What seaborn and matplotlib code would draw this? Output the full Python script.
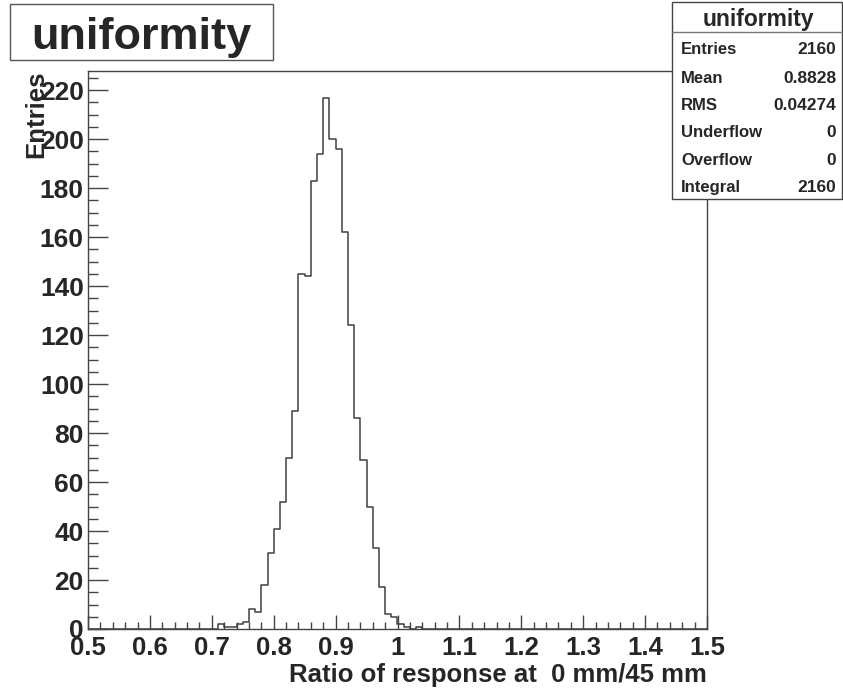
import numpy as np
import pandas as pd
import matplotlib
matplotlib.use("Agg")
import matplotlib.pyplot as plt
from matplotlib.patches import Rectangle
from matplotlib.lines import Line2D
from matplotlib.ticker import FixedLocator, FixedFormatter, MultipleLocator
import seaborn as sns

# Binning of the ratio histogram: 100 bins of width 0.01
bin_low = 0.5
bin_high = 1.5
n_bins = 100

# Non-empty bins (bin index) and their entries
filled_bins = [21, 22, 23, 24, 25, 26, 27, 28, 29, 30, 31,
               32, 33, 34, 35, 36, 37, 38, 39, 40, 41,
               42, 43, 44, 45, 46, 47, 48, 49, 50, 51, 53]
filled_counts = [2, 1, 1, 2, 3, 8, 7, 18, 31, 41, 52,
                 70, 89, 145, 144, 183, 194, 217, 200, 196, 162,
                 124, 86, 69, 50, 33, 17, 6, 5, 2, 1, 1]

xtick_values = [0.5, 0.6, 0.7, 0.8, 0.9, 1.0, 1.1, 1.2, 1.3, 1.4, 1.5]
xtick_labels = ["0.5", "0.6", "0.7", "0.8", "0.9", "1", "1.1", "1.2", "1.3", "1.4", "1.5"]
ytick_values = [0, 20, 40, 60, 80, 100, 120, 140, 160, 180, 200, 220]

hist_name = "uniformity"
x_title = "Ratio of response at  0 mm/45 mm"
y_title = "Entries"

stat_names = ["Entries", "Mean", "RMS", "Underflow", "Overflow", "Integral"]
stat_values = ["2160", "0.8828", "0.04274", "0", "0", "2160"]

sns.set_style("white")
plt.rcParams["font.family"] = ["Liberation Sans", "DejaVu Sans"]
plt.rcParams["font.weight"] = "bold"

W, H = 843, 689
fig = plt.figure(figsize=(W / 100, H / 100), dpi=100)
ax = fig.add_axes([88 / W, 1 - 629 / H, 619 / W, 558 / H])

width = (bin_high - bin_low) / n_bins
centers = bin_low + (np.array(filled_bins) + 0.5) * width
df = pd.DataFrame({"ratio": centers, "entries": filled_counts})

sns.histplot(data=df, x="ratio", weights="entries", bins=n_bins,
             binrange=(bin_low, bin_high), element="step", fill=False,
             color="#404040", linewidth=1.1, ax=ax)

ax.set_xlim(bin_low, bin_high)
ax.set_ylim(0, max(filled_counts) * 1.05)

# axis ticks, drawn inside the frame
ax.xaxis.set_major_locator(FixedLocator(xtick_values))
ax.xaxis.set_major_formatter(FixedFormatter(xtick_labels))
ax.xaxis.set_minor_locator(MultipleLocator(0.02))
ax.yaxis.set_major_locator(FixedLocator(ytick_values))
ax.yaxis.set_minor_locator(MultipleLocator(5))
ax.tick_params(axis="x", which="major", direction="in", length=10, width=1,
               bottom=True, top=False, pad=5, labelsize=18.5, color="#444444")
ax.tick_params(axis="x", which="minor", direction="in", length=5, width=1,
               bottom=True, top=False, color="#444444")
ax.tick_params(axis="y", which="major", direction="in", length=14.5, width=1,
               left=True, right=False, pad=3, labelsize=19, color="#444444")
ax.tick_params(axis="y", which="minor", direction="in", length=7.5, width=1,
               left=True, right=False, color="#444444")
for sp in ax.spines.values():
    sp.set_color("#444444")
    sp.set_linewidth(1)

ax.set_xlabel(x_title, fontsize=18.5, fontweight="bold", loc="right")
ax.xaxis.set_label_coords(1.0, -0.082)
ax.xaxis.label.set_va("center")
ax.set_ylabel(y_title, fontsize=18.5, fontweight="bold", loc="top")
ax.yaxis.set_label_coords(-0.083, 1.0)
ax.yaxis.label.set_va("center")

# title pave
fig.add_artist(Rectangle((10 / W, 1 - 60 / H), 263 / W, 56 / H,
                         transform=fig.transFigure, facecolor="white",
                         edgecolor="#555555", linewidth=1, zorder=5))
fig.text(141 / W, 1 - 49 / H, hist_name, fontsize=32.5, fontweight="bold",
         ha="center", va="baseline", zorder=6)

# statistics box
fig.add_artist(Rectangle((672 / W, 1 - 199 / H), 170 / W, 197 / H,
                         transform=fig.transFigure, facecolor="white",
                         edgecolor="#444444", linewidth=1, zorder=5))
fig.add_artist(Line2D([672 / W, 842 / W], [1 - 32 / H, 1 - 32 / H],
                      transform=fig.transFigure, color="#777777",
                      linewidth=1, zorder=6))
fig.text(758 / W, 1 - 26 / H, hist_name, fontsize=16.5, fontweight="bold",
         ha="center", va="baseline", zorder=7)
row_baselines = [54, 83, 110, 137, 165, 192]
for name, val, yb in zip(stat_names, stat_values, row_baselines):
    fig.text(681 / W, 1 - yb / H, name, fontsize=12, fontweight="bold",
             ha="left", va="baseline", zorder=7)
    fig.text(836 / W, 1 - yb / H, val, fontsize=12.5, fontweight="bold",
             ha="right", va="baseline", zorder=7)

fig.savefig("out.png", dpi=100, facecolor="white")
